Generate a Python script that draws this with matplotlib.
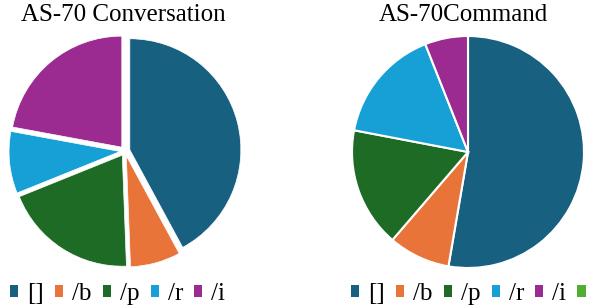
import matplotlib
matplotlib.use("Agg")
import matplotlib.pyplot as plt
from matplotlib.patches import Patch

W, H = 593, 306
DPI = 100

categories = ["[]", "/b", "/p", "/r", "/i"]
colors = ["#17607f", "#e8743a", "#1e6b25", "#16a0d6", "#9b2b91"]
extra_legend_color = "#4fae33"   # sixth legend entry, cut off at the figure edge

conv_values = [42.1, 7.3, 19.5, 9.0, 22.1]
cmd_values = [52.7, 8.6, 16.7, 16.0, 6.0]

plt.rcParams['font.family'] = ['Liberation Serif', 'DejaVu Serif']

fig = plt.figure(figsize=(W / DPI, H / DPI), dpi=DPI)


def make_ax(cx, cy_top, r):
    size = 2.4 * r
    x0 = cx - size / 2
    y0 = (H - cy_top) - size / 2
    ax = fig.add_axes([x0 / W, y0 / H, size / W, size / H])
    ax.axis('off')
    return ax


ax1 = make_ax(125, 151, 111)
ax1.pie(conv_values, colors=colors, startangle=90,
        counterclock=False, explode=[0.045] * len(conv_values),
        wedgeprops=dict(edgecolor='white', linewidth=0.5))
ax1.set_xlim(-1.2, 1.2)
ax1.set_ylim(-1.2, 1.2)

ax2 = make_ax(468, 152, 116)
ax2.pie(cmd_values, colors=colors, startangle=90,
        counterclock=False,
        wedgeprops=dict(edgecolor='white', linewidth=1.5))
ax2.set_xlim(-1.2, 1.2)
ax2.set_ylim(-1.2, 1.2)

fig.text(123 / W, 1 - 15 / H, "AS-70 Conversation", ha='center', va='center', fontsize=18)
fig.text(463 / W, 1 - 15 / H, "AS-70Command", ha='center', va='center', fontsize=18)


def add_legend(x_left, extra=False):
    handles = [Patch(facecolor=c, edgecolor='none', label=l) for c, l in zip(colors, categories)]
    if extra:
        handles.append(Patch(facecolor=extra_legend_color, edgecolor='none', label=''))
    leg = fig.legend(handles=handles, loc='center left',
                     bbox_to_anchor=(x_left / W, 12 / H), bbox_transform=fig.transFigure,
                     ncol=len(handles), frameon=False, fontsize=18, handlelength=0.33,
                     handleheight=0.33, handletextpad=0.35, columnspacing=0.45,
                     borderpad=0, borderaxespad=0)
    return leg


add_legend(10)
add_legend(351, extra=True)

fig.savefig("out.png", dpi=DPI)
